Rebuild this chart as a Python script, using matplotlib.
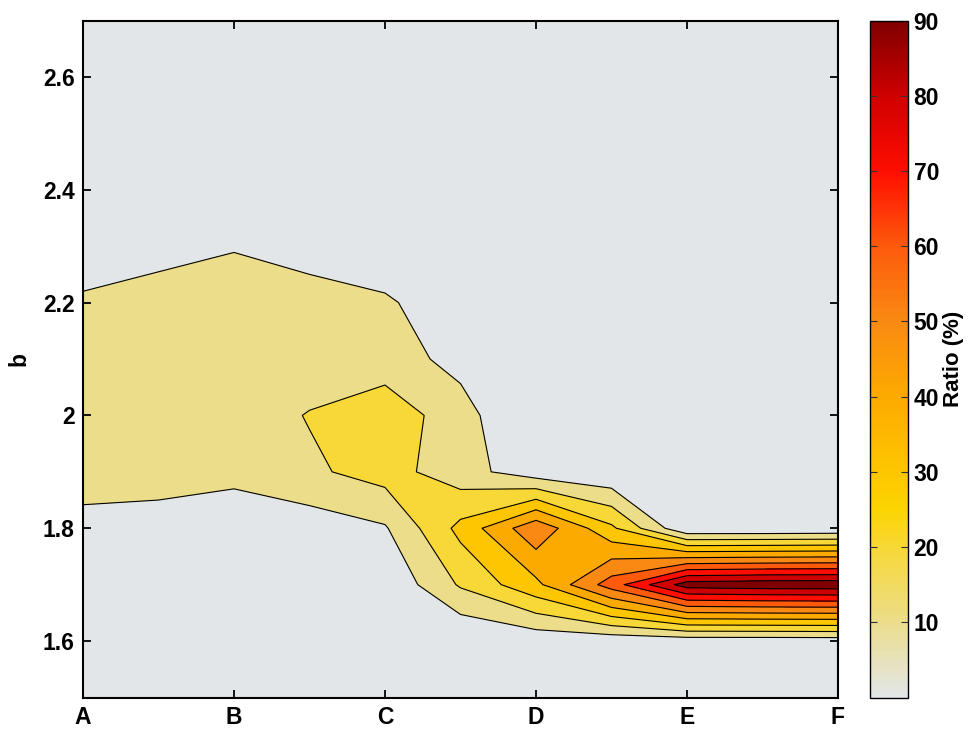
import numpy as np
import matplotlib
matplotlib.use("Agg")
import matplotlib.pyplot as plt
from matplotlib.colors import LinearSegmentedColormap, Normalize
from matplotlib.cm import ScalarMappable

plt.rcParams['font.family'] = ['Liberation Sans', 'DejaVu Sans']

# ---- data ----
categories = ['A', 'B', 'C', 'D', 'E', 'F']
x_nodes = [0.0, 0.5, 1.0, 1.5, 2.0, 2.5, 3.0, 3.5, 4.0, 4.5, 5.0]   # category units (A=0 ... F=5)
y_nodes = [1.5, 1.6, 1.7, 1.8, 1.9, 2.0, 2.1, 2.2, 2.3, 2.4, 2.5, 2.6, 2.7]

# Ratio (%) per x node, listed along y_nodes
col_A   = [0, 0,    0,    5.0, 17.0, 18.0, 16.0, 12.0, 2.0, 0, 0, 0, 0]
col_A5  = [0, 0,    0,    5.0, 15.0, 16.0, 15.5, 13.0, 7.5, 1.0, 0, 0, 0]
col_B   = [0, 0,    0,    4.9, 12.2, 14.3, 15.0, 14.0, 9.5, 3.0, 0, 0, 0]
col_B5  = [0, 0,    0,    4.5, 18.2, 20.6, 14.0, 13.0, 7.0, 1.0, 0, 0, 0]
col_C   = [0, 0,    1.4,  9.0, 24.2, 27.0, 14.0, 11.0, 5.1, 0, 0, 0, 0]
col_C5  = [0, 0,    21.2, 33.0, 14.1, 13.5, 7.3, 5.4, 0, 0, 0, 0, 0]
col_D   = [0, 3.0,  37.5, 57.5, 4.0, 0, 0, 0, 0, 0, 0, 0, 0]
col_D5  = [0, 3.0,  65.0, 32.0, 1.0, 0, 0, 0, 0, 0, 0, 0, 0]
col_E   = [0, 4.0,  95.0, 1.0, 0, 0, 0, 0, 0, 0, 0, 0, 0]
col_E5  = [0, 4.0,  96.5, 1.0, 0, 0, 0, 0, 0, 0, 0, 0, 0]
col_F   = [0, 4.3,  97.0, 1.5, 0, 0, 0, 0, 0, 0, 0, 0, 0]

ytick_vals = [1.6, 1.8, 2.0, 2.2, 2.4, 2.6]
ytick_labels = ['1.6', '1.8', '2', '2.2', '2.4', '2.6']
cbar_ticks = [10, 20, 30, 40, 50, 60, 70, 80, 90]
levels = [-1, 10, 20, 30, 40, 50, 60, 70, 80, 90, 100]

Z = np.array([col_A, col_A5, col_B, col_B5, col_C, col_C5,
              col_D, col_D5, col_E, col_E5, col_F]).T
X, Y = np.meshgrid(x_nodes, y_nodes)

# ---- colormap (gray -> yellow -> orange -> red -> dark red) ----
anchors = [(0, '#e2e6e8'), (10, '#ecdd8a'), (20, '#f7d835'), (25, '#fcd400'),
           (30, '#fdc600'), (40, '#fdaa00'), (50, '#f98a12'), (60, '#fd5a0c'),
           (70, '#ff0e00'), (80, '#d00000'), (90, '#800000')]
cmap = LinearSegmentedColormap.from_list('ratio', [(v / 90.0, c) for v, c in anchors])
norm = Normalize(0, 90)
fill_colors = [cmap(norm(max(l, 0))) for l in levels[:-1]]

W, H = 976, 731
fig = plt.figure(figsize=(W / 100, H / 100), dpi=100)
top, bot = 20.5, 697.5
ax = fig.add_axes([83 / W, 1 - bot / H, (838 - 83) / W, (bot - top) / H])
cax = fig.add_axes([870 / W, 1 - bot / H, (908 - 870) / W, (bot - top) / H])

ax.contourf(X, Y, Z, levels=levels, colors=fill_colors)
ax.contour(X, Y, Z, levels=levels[1:-1], colors='k', linewidths=0.8)

ax.set_xlim(0, 5)
ax.set_ylim(1.5, 2.7)
ax.set_xticks(range(len(categories)))
ax.set_xticklabels(categories)
ax.set_yticks(ytick_vals)
ax.set_yticklabels(ytick_labels)
ax.tick_params(direction='in', top=True, right=True, length=6, width=1.3,
               labelsize=16.5, pad=6)
for lbl in ax.get_xticklabels() + ax.get_yticklabels():
    lbl.set_fontweight('bold')
for sp in ax.spines.values():
    sp.set_linewidth(1.5)
ax.set_ylabel('b', fontsize=16.5, fontweight='bold', labelpad=9)

cb = fig.colorbar(ScalarMappable(norm=norm, cmap=cmap), cax=cax, ticks=cbar_ticks)
cax.tick_params(direction='in', left=True, right=True, length=5, width=0.8,
                labelsize=16.5, pad=4, color='#333333')
for lbl in cax.get_yticklabels():
    lbl.set_fontweight('bold')
cb.outline.set_linewidth(1.0)
cb.set_label('Ratio (%)', fontsize=16, fontweight='bold', labelpad=3)

fig.savefig('out.png', dpi=100)
